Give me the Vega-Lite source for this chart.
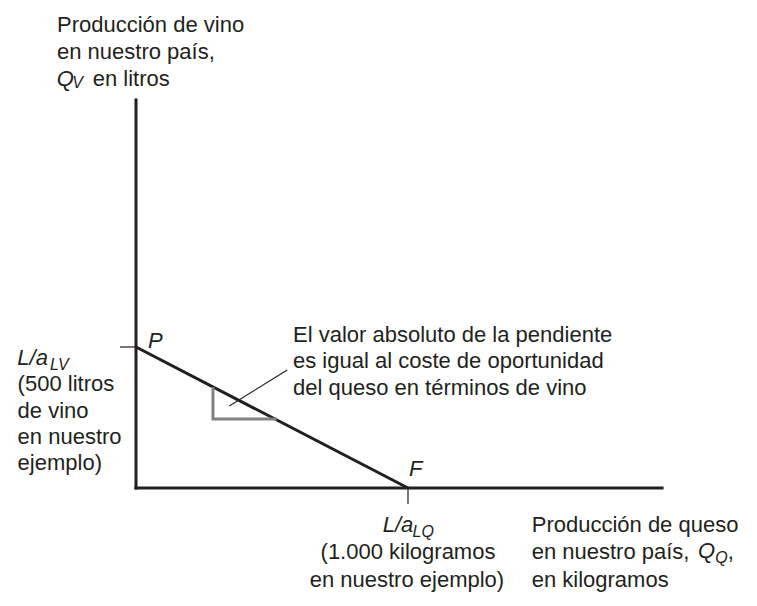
{
  "$schema": "https://vega.github.io/schema/vega-lite/v6.json",
  "width": 757,
  "height": 606,
  "autosize": {"type": "none"},
  "padding": 0,
  "background": "white",
  "config": {"view": {"stroke": null}, "text": {"font": "Liberation Sans", "color": "#231f20"}},
  "datasets": {
    "axes": [
      {"x": 0, "y": 0, "x2": 0, "y2": 1376},
      {"x": 0, "y": 0, "x2": 1934, "y2": 0}
    ],
    "frontier": [
      {"x": 0, "y": 500, "x2": 1000, "y2": 0}
    ],
    "thin": [
      {"x": -59, "y": 500, "x2": 0, "y2": 500},
      {"x": 1000, "y": 0, "x2": 1000, "y2": -57},
      {"x": 343, "y": 290.8, "x2": 556, "y2": 418.4}
    ],
    "slope": [
      {"i": 1, "x": 283, "y": 358.5},
      {"i": 2, "x": 283, "y": 244.7},
      {"i": 3, "x": 518, "y": 244.7}
    ],
    "textLeft": [
      {"x": -290.4, "y": 1617, "t": "Producción de vino"},
      {"x": -290.4, "y": 1521.3, "t": "en nuestro país,"},
      {"x": -159.2, "y": 1425.5, "t": "en litros"},
      {"x": -435.3, "y": 342.2, "t": "(500 litros"},
      {"x": -435.3, "y": 248.2, "t": "de vino"},
      {"x": -435.3, "y": 154.3, "t": "en nuestro"},
      {"x": -435.3, "y": 63.8, "t": "ejemplo)"},
      {"x": 577.2, "y": 518.8, "t": "El valor absoluto de la pendiente"},
      {"x": 577.2, "y": 425.5, "t": "es igual al coste de oportunidad"},
      {"x": 577.2, "y": 329.8, "t": "del queso en términos de vino"},
      {"x": 1454.8, "y": -155, "t": "Producción de queso"},
      {"x": 1454.8, "y": -252.8, "t": "en nuestro país,"},
      {"x": 1454.8, "y": -350, "t": "en kilogramos"},
      {"x": 2176, "y": -252.8, "t": ","}
    ],
    "textCenter": [
      {"x": 1000, "y": -252.8, "t": "(1.000 kilogramos"},
      {"x": 996, "y": -350, "t": "en nuestro ejemplo)"}
    ],
    "textItalic": [
      {"x": -291.5, "y": 1425.5, "t": "Q"},
      {"x": -436.4, "y": 436.2, "t": "L/a"},
      {"x": 44, "y": 496.5, "t": "P"},
      {"x": 1003.7, "y": 42, "t": "F"},
      {"x": 907, "y": -155, "t": "L/a"},
      {"x": 2066, "y": -248.2, "t": "Q"}
    ],
    "textSub": [
      {"x": -234, "y": 1417.4, "t": "V"},
      {"x": -316.2, "y": 418.4, "t": "LV"},
      {"x": 1016.5, "y": -172.7, "t": "LQ"},
      {"x": 2130, "y": -266, "t": "Q"}
    ]
  },
  "layer": [
    {
      "data": {"name": "axes"},
      "mark": {"type": "rule", "strokeWidth": 3, "color": "#231f20", "strokeCap": "square"},
      "encoding": {
        "x": {"field": "x", "type": "quantitative", "scale": {"domain": [-500, 2283.09], "nice": false, "zero": false}, "axis": null},
        "y": {"field": "y", "type": "quantitative", "scale": {"domain": [-418.44, 1730.5], "nice": false, "zero": false}, "axis": null},
        "x2": {"field": "x2"},
        "y2": {"field": "y2"}
      }
    },
    {
      "data": {"name": "frontier"},
      "mark": {"type": "rule", "strokeWidth": 3, "color": "#231f20"},
      "encoding": {
        "x": {"field": "x", "type": "quantitative"},
        "y": {"field": "y", "type": "quantitative"},
        "x2": {"field": "x2"},
        "y2": {"field": "y2"}
      }
    },
    {
      "data": {"name": "thin"},
      "mark": {"type": "rule", "strokeWidth": 1.2, "color": "#231f20"},
      "encoding": {
        "x": {"field": "x", "type": "quantitative"},
        "y": {"field": "y", "type": "quantitative"},
        "x2": {"field": "x2"},
        "y2": {"field": "y2"}
      }
    },
    {
      "data": {"name": "slope"},
      "mark": {"type": "line", "strokeWidth": 3, "color": "#808080", "strokeJoin": "miter", "strokeCap": "butt"},
      "encoding": {
        "x": {"field": "x", "type": "quantitative"},
        "y": {"field": "y", "type": "quantitative"},
        "order": {"field": "i", "type": "quantitative"}
      }
    },
    {
      "data": {"name": "textLeft"},
      "mark": {"type": "text", "fontSize": 22, "align": "left", "baseline": "alphabetic"},
      "encoding": {
        "x": {"field": "x", "type": "quantitative"},
        "y": {"field": "y", "type": "quantitative"},
        "text": {"field": "t"}
      }
    },
    {
      "data": {"name": "textCenter"},
      "mark": {"type": "text", "fontSize": 22, "align": "center", "baseline": "alphabetic"},
      "encoding": {
        "x": {"field": "x", "type": "quantitative"},
        "y": {"field": "y", "type": "quantitative"},
        "text": {"field": "t"}
      }
    },
    {
      "data": {"name": "textItalic"},
      "mark": {"type": "text", "fontSize": 22, "fontStyle": "italic", "align": "left", "baseline": "alphabetic"},
      "encoding": {
        "x": {"field": "x", "type": "quantitative"},
        "y": {"field": "y", "type": "quantitative"},
        "text": {"field": "t"}
      }
    },
    {
      "data": {"name": "textSub"},
      "mark": {"type": "text", "fontSize": 16, "fontStyle": "italic", "align": "left", "baseline": "alphabetic"},
      "encoding": {
        "x": {"field": "x", "type": "quantitative"},
        "y": {"field": "y", "type": "quantitative"},
        "text": {"field": "t"}
      }
    }
  ]
}
